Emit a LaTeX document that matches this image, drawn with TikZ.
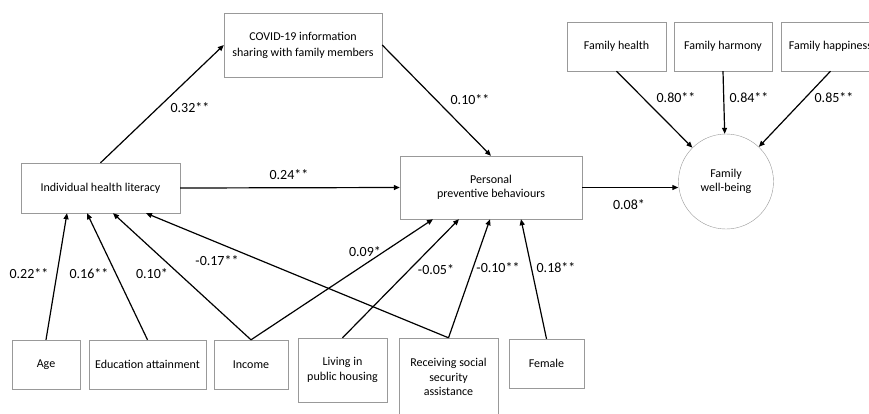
\documentclass[tikz,border=0pt]{standalone}
\usepackage{fontspec}
\setmainfont{Carlito}
\usetikzlibrary{arrows.meta}

\begin{document}
\begin{tikzpicture}[x=1pt, y=-1pt, >={Triangle[length=6pt,width=5pt]},
  box/.style={draw=gray!80, thin, align=center, inner sep=0pt, font=\fontsize{12}{14.5}\selectfont},
  coef/.style={font=\fontsize{14}{16}\selectfont, inner sep=0pt},
  link/.style={->, line width=1.2pt}]

% Marco de la figura
\useasboundingbox (0,0) rectangle (869,413);
\clip (0,0) rectangle (869,413);

% =============================================
% Bloques principales
% =============================================
\node[box, minimum width=158, minimum height=64, font=\fontsize{12}{16}\selectfont] (covid) at (303,45) {COVID-19 information\\sharing with family members};
\node[box, minimum width=159, minimum height=50] (ihl) at (100.5,188) {Individual health literacy};
\node[box, minimum width=182, minimum height=63] (ppb) at (491,187.5) {Personal\\preventive behaviours};

% Bienestar familiar y sus indicadores
\node[box, circle, minimum size=95] (fwb) at (726,181.5) {Family\\well-being};
\node[box, minimum width=99, minimum height=49] (fhealth) at (616.5,46.5) {Family health};
\node[box, minimum width=98, minimum height=49] (fharmony) at (723,46.5) {Family harmony};
\node[box, minimum width=99, minimum height=49] (fhappy) at (830.5,46.5) {Family happiness};

% Variables de control (fila inferior)
\node[box, minimum width=68, minimum height=49] (age) at (46,364.5) {Age};
\node[box, minimum width=117, minimum height=49] (edu) at (147.5,364.5) {Education attainment};
\node[box, minimum width=74, minimum height=49] (income) at (251,364.5) {Income};
\node[box, minimum width=89, minimum height=64] (housing) at (342.5,370) {Living in\\public housing};
\node[box, minimum width=99, minimum height=78] (cssa) at (448.5,377) {Receiving social\\security\\assistance};
\node[box, minimum width=75, minimum height=49] (female) at (546.5,363.5) {Female};

% =============================================
% Rutas
% =============================================
\draw[link] (ihl.north) -- (covid.west);
\draw[link] (covid.east) -- (ppb.north);
\draw[link] (ihl.east) -- (ppb.west);
\draw[link] (ppb.east) -- (ppb.east -| fwb.west);
\draw[link] (fhealth.south) -- (fwb);
\draw[link] (fharmony.south) -- (fwb);
\draw[link] (fhappy.south) -- (fwb);

% Hacia la alfabetización en salud
\draw[link] (age.north) -- ([xshift=-33.5]ihl.south);
\draw[link] (edu.north) -- ([xshift=-13.5]ihl.south);
\draw[link] (income.north) -- ([xshift=12.5]ihl.south);
\draw[link] (cssa.north) -- ([xshift=45.5]ihl.south);

% Hacia las conductas preventivas
\draw[link] (income.north) -- ([xshift=-58]ppb.south);
\draw[link] (housing.north) -- ([xshift=-32]ppb.south);
\draw[link] (cssa.north) -- ([xshift=-1]ppb.south);
\draw[link] (female.north) -- ([xshift=30]ppb.south);

% =============================================
% Coeficientes
% =============================================
\node[coef] (k1) at (190,108) {0.32**};
\node[coef] (k2) at (470,100) {0.10**};
\node[coef] (k3) at (289,175) {0.24**};
\node[coef] (k4) at (629,205) {0.08*};
\node[coef] (k5) at (676,98) {0.80**};
\node[coef] (k6) at (749,98) {0.84**};
\node[coef] (k7) at (834,98) {0.85**};
\node[coef] (k8) at (29,274) {0.22**};
\node[coef] (k9) at (89,274) {0.16**};
\node[coef] (k10) at (152,274) {0.10*};
\node[coef] (k11) at (217,261) {-0.17**};
\node[coef] (k12) at (365,252) {0.09*};
\node[coef] (k13) at (436,270) {-0.05*};
\node[coef] (k14) at (498,268) {-0.10**};
\node[coef] (k15) at (556,268) {0.18**};

\end{tikzpicture}
\end{document}
